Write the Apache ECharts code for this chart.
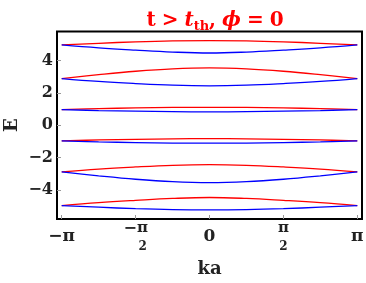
<!DOCTYPE html>
<html><head><meta charset="utf-8">
<script src="https://cdn.jsdelivr.net/npm/echarts@6/dist/echarts.min.js"></script>
<style>html,body{margin:0;padding:0;background:#fff}#c{width:366px;height:283px}</style>
</head><body><div id="c"></div>
<script>
// k values (ka) sampled at multiples of pi/4
const kValues = [-Math.PI, -3*Math.PI/4, -Math.PI/2, -Math.PI/4, 0, Math.PI/4, Math.PI/2, 3*Math.PI/4, Math.PI];

// bands (top to bottom)
const band1Red  = [4.97, 5.07, 5.16, 5.22, 5.24, 5.22, 5.16, 5.07, 4.97];
const band1Blue = [4.97, 4.79, 4.65, 4.53, 4.47, 4.53, 4.65, 4.79, 4.97];
const band2Red  = [2.89, 3.13, 3.34, 3.49, 3.55, 3.49, 3.34, 3.13, 2.89];
const band2Blue = [2.89, 2.71, 2.58, 2.48, 2.44, 2.48, 2.58, 2.71, 2.89];
const band3Red  = [0.97, 1.03, 1.07, 1.10, 1.11, 1.10, 1.07, 1.03, 0.97];
const band3Blue = [0.97, 0.91, 0.87, 0.84, 0.83, 0.84, 0.87, 0.91, 0.97];
const band4Red  = [-0.97, -0.91, -0.87, -0.84, -0.83, -0.84, -0.87, -0.91, -0.97];
const band4Blue = [-0.97, -1.03, -1.07, -1.10, -1.11, -1.10, -1.07, -1.03, -0.97];
const band5Red  = [-2.89, -2.71, -2.58, -2.48, -2.44, -2.48, -2.58, -2.71, -2.89];
const band5Blue = [-2.89, -3.13, -3.34, -3.49, -3.55, -3.49, -3.34, -3.13, -2.89];
const band6Red  = [-4.97, -4.79, -4.65, -4.53, -4.47, -4.53, -4.65, -4.79, -4.97];
const band6Blue = [-4.97, -5.07, -5.16, -5.22, -5.24, -5.22, -5.16, -5.07, -4.97];

const redBands = [band1Red, band2Red, band3Red, band4Red, band5Red, band6Red];
const blueBands = [band1Blue, band2Blue, band3Blue, band4Blue, band5Blue, band6Blue];

// tick positions and labels
const xTickValues = [-Math.PI, -Math.PI/2, 0, Math.PI/2, Math.PI];
const xTickLabels = ['{n|−π}', '{m|−}{f|π}\n{p| }{s|2}', '{n|0}', '{f|π}\n{s|2}', '{n|π}'];
const yTickValues = [-4, -2, 0, 2, 4];
const yTickLabels = ['−4', '−2', '0', '2', '4'];

const titleText = '{a|t}{g| }{a|>}{g| }{i|t}{sub|th}{a|,}{g| }{i|ϕ}{g| }{a|=}{g| }{a|0}';
const xName = 'ka';
const yName = 'E';

const serif = '"DejaVu Serif", "Liberation Serif", serif';
const chart = echarts.init(document.getElementById('c'), null, {renderer: 'canvas'});

function mkSeries(arr, color) {
  return {
    type: 'line',
    data: kValues.map((k, i) => [k, arr[i]]),
    smooth: 0.4,
    symbol: 'none',
    lineStyle: {color: color, width: 1.3},
    silent: true,
    animation: false
  };
}

const series = [];
redBands.forEach(b => series.push(mkSeries(b, '#ff0000')));
blueBands.forEach(b => series.push(mkSeries(b, '#0000ff')));

const titleColor = '#ff0000';
chart.setOption({
  animation: false,
  backgroundColor: '#fff',
  title: {
    text: titleText,
    left: 210,
    top: 4,
    textAlign: 'center',
    textStyle: {
      rich: {
        a: {fontFamily: serif, fontWeight: 'bold', fontSize: 20, color: titleColor, lineHeight: 24},
        g: {fontFamily: serif, fontSize: 20, width: 6, lineHeight: 24},
        i: {fontFamily: serif, fontWeight: 'bold', fontStyle: 'italic', fontSize: 20, color: titleColor, lineHeight: 24},
        sub: {fontFamily: serif, fontWeight: 'bold', fontSize: 13, color: titleColor, lineHeight: 15, verticalAlign: 'bottom'}
      }
    }
  },
  grid: {
    left: 57, right: 4, top: 31.5, bottom: 64,
    outerBoundsMode: 'none',
    containLabel: false,
    show: true, borderColor: '#000', borderWidth: 2, backgroundColor: 'transparent'
  },
  xAxis: {
    type: 'value',
    min: -Math.PI - 0.1,
    max: Math.PI + 0.1,
    name: xName,
    nameLocation: 'middle',
    nameGap: 41,
    nameMoveOverlap: false,
    nameTextStyle: {fontFamily: serif, fontWeight: 'bold', fontSize: 18, color: '#222'},
    axisLine: {show: false, onZero: false},
    splitLine: {show: false},
    axisTick: {show: true, inside: true, length: 4, customValues: xTickValues, lineStyle: {color: '#999', width: 1}},
    axisLabel: {
      customValues: xTickValues,
      margin: 18,
      verticalAlign: 'middle',
      formatter: function (v) {
        let best = 0;
        xTickValues.forEach((t, i) => { if (Math.abs(t - v) < Math.abs(xTickValues[best] - v)) best = i; });
        return xTickLabels[best];
      },
      rich: {
        n: {fontFamily: serif, fontWeight: 'bold', fontSize: 17, color: '#222'},
        m: {fontFamily: serif, fontWeight: 'bold', fontSize: 16, color: '#222', width: 14, lineHeight: 15},
        p: {fontSize: 12, width: 14, lineHeight: 17},
        f: {fontFamily: serif, fontWeight: 'bold', fontSize: 15, color: '#222', lineHeight: 15},
        s: {fontFamily: serif, fontWeight: 'bold', fontSize: 12, color: '#222', lineHeight: 17, verticalAlign: 'bottom'}
      }
    }
  },
  yAxis: {
    type: 'value',
    min: -5.8,
    max: 5.8,
    name: yName,
    nameLocation: 'middle',
    nameGap: 36,
    nameMoveOverlap: false,
    nameTextStyle: {fontFamily: serif, fontWeight: 'bold', fontSize: 18, color: '#222'},
    axisLine: {show: false, onZero: false},
    splitLine: {show: false},
    axisTick: {show: true, inside: true, length: 4, customValues: yTickValues, lineStyle: {color: '#999', width: 1}},
    axisLabel: {
      customValues: yTickValues,
      margin: 4,
      fontFamily: serif, fontWeight: 'bold', fontSize: 16, color: '#222',
      formatter: function (v) {
        const i = yTickValues.findIndex(t => Math.abs(t - v) < 1e-6);
        return i >= 0 ? yTickLabels[i] : '';
      }
    }
  },
  series: series
});
</script>
</body></html>
